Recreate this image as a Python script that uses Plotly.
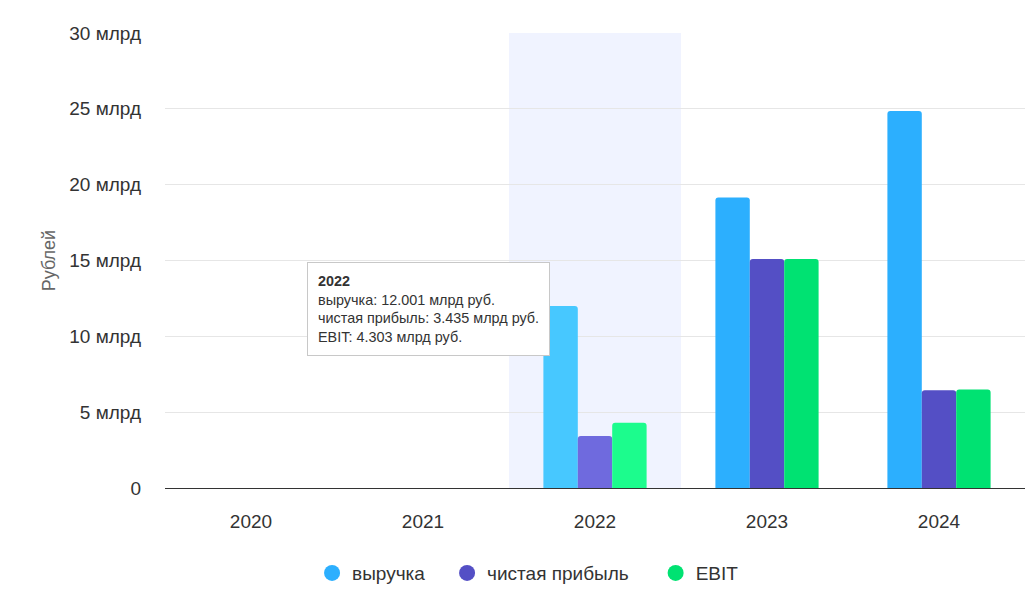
import plotly.graph_objects as go

years = ["2020", "2021", "2022", "2023", "2024"]
revenue = [None, None, 12.001, 19.15, 24.85]
net_profit = [None, None, 3.435, 15.1, 6.45]
ebit = [None, None, 4.303, 15.1, 6.5]
series_names = ["выручка", "чистая прибыль", "EBIT"]
colors = ["#2caffe", "#544fc5", "#00e272"]
hover_colors = ["#47c8ff", "#6f6ade", "#1cfc8d"]
y_ticks = [0, 5, 10, 15, 20, 25, 30]
y_tick_text = ["0", "5 млрд", "10 млрд", "15 млрд", "20 млрд", "25 млрд", "30 млрд"]
hover_index = 2

FONT = "Liberation Sans, Arial, sans-serif"
legend_ids = ["legend", "legend2", "legend3"]
legend_x = [0.171, 0.328, 0.5705]

fig = go.Figure()
for name, vals, c, hc, lg in zip(series_names, [revenue, net_profit, ebit], colors, hover_colors, legend_ids):
    cols = [hc if i == hover_index else c for i in range(len(years))]
    fig.add_trace(go.Bar(x=years, y=vals, name=name, marker=dict(color=cols, line=dict(width=0)),
                         showlegend=False))
    fig.add_trace(go.Scatter(x=[None], y=[None], mode="markers", name=name, legend=lg,
                             marker=dict(color=c, size=17, symbol="circle")))

fig.add_shape(type="rect", xref="x", yref="paper", x0=hover_index - 0.5, x1=hover_index + 0.5,
              y0=0, y1=1, fillcolor="#f0f3ff", line=dict(width=0), layer="below")

tip = "<b>%s</b><br>%s: %.3f млрд руб.<br>%s: %.3f млрд руб.<br>%s: %.3f млрд руб." % (
    years[hover_index], series_names[0], revenue[hover_index],
    series_names[1], net_profit[hover_index], series_names[2], ebit[hover_index])
fig.add_annotation(xref="paper", yref="paper", x=0.165, y=0.497, xanchor="left", yanchor="top",
                   text=tip, showarrow=False, align="left",
                   font=dict(family=FONT, size=14.4, color="#333333"),
                   bgcolor="#ffffff", bordercolor="#c8c8c8", borderwidth=1, borderpad=10)

legend_style = dict(orientation="h", xanchor="left", y=-0.187, yanchor="middle",
                    font=dict(family=FONT, size=19, color="#333333"), itemsizing="trace",
                    bgcolor="rgba(0,0,0,0)")

fig.update_layout(
    width=1028, height=602,
    margin=dict(l=157, r=11, t=25, b=122),
    paper_bgcolor="#ffffff", plot_bgcolor="#ffffff",
    font=dict(family=FONT, size=19, color="#333333"),
    barmode="group", bargap=0.4, bargroupgap=0, barcornerradius=3,
    legend=dict(x=legend_x[0], **legend_style),
    legend2=dict(x=legend_x[1], **legend_style),
    legend3=dict(x=legend_x[2], **legend_style),
    xaxis=dict(type="category", showgrid=False, showline=True, linecolor="#333333", linewidth=1,
               ticks="", tickfont=dict(size=19, color="#333333"), ticklabelstandoff=16),
    yaxis=dict(range=[0, 30], tickvals=y_ticks, ticktext=y_tick_text, showgrid=True,
               gridcolor="#e6e6e6", gridwidth=1, zeroline=False, showline=False,
               tickfont=dict(size=19, color="#333333"), ticklabelstandoff=23,
               title=dict(text="Рублей", font=dict(size=18, color="#666666"), standoff=8)),
    showlegend=True,
)

fig.write_html("out.html")
